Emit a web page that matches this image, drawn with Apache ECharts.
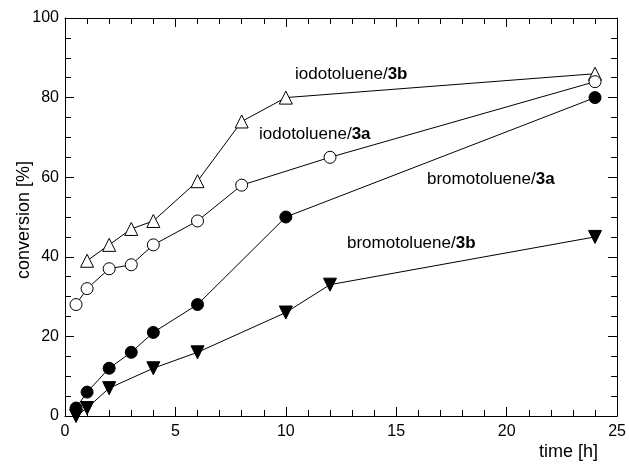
<!DOCTYPE html>
<html>
<head>
<meta charset="utf-8">
<script src="https://cdn.jsdelivr.net/npm/echarts@6/dist/echarts.min.js"></script>
<style>
  html, body { margin: 0; padding: 0; background: #fff; }
  #chart { width: 629px; height: 466px; }
</style>
</head>
<body>
<div id="chart"></div>
<script>
// data
const iodo3bTime = [1, 2, 3, 4, 6, 8, 10, 24];
const iodo3bConv = [39, 43, 47, 49, 59, 74, 80, 86];

const iodo3aTime = [0.5, 1, 2, 3, 4, 6, 8, 12, 24];
const iodo3aConv = [28, 32, 37, 38, 43, 49, 58, 65, 84];

const bromo3aTime = [0.5, 1, 2, 3, 4, 6, 10, 24];
const bromo3aConv = [2, 6, 12, 16, 21, 28, 50, 80];

const bromo3bTime = [0.5, 1, 2, 4, 6, 10, 12, 24];
const bromo3bConv = [0, 2, 7, 12, 16, 26, 33, 45];

const xTicks = [0, 5, 10, 15, 20, 25];
const yTicks = [0, 20, 40, 60, 80, 100];

const FONT = 'Liberation Sans, Arial, sans-serif';

function zip(xs, ys) {
    return xs.map((x, i) => [x, ys[i]]);
}

function makeSeries(name, xs, ys, symbol, filled, rotate) {
    return {
        name: name,
        type: 'line',
        data: zip(xs, ys),
        symbol: symbol,
        symbolSize: symbol === 'circle' ? 12 : 13,
        symbolRotate: rotate || 0,
        showAllSymbol: true,
        clip: false,
        animation: false,
        lineStyle: { color: '#000', width: 1 },
        itemStyle: {
            color: filled ? '#000' : '#fff',
            borderColor: '#000',
            borderWidth: 1
        }
    };
}

// series label with bold compound number
function seriesLabel(x, y, base, num) {
    return {
        type: 'text', x: x, y: y,
        style: {
            text: '{n|' + base + '}{b|' + num + '}', verticalAlign: 'middle',
            rich: {
                n: { fontSize: 17, fontFamily: FONT, fill: '#000' },
                b: { fontSize: 17, fontFamily: FONT, fontWeight: 'bold', fill: '#000' }
            }
        }
    };
}

const chart = echarts.init(document.getElementById('chart'), null, { renderer: 'canvas' });

const axisCommon = {
    type: 'value',
    axisLine: { show: true, onZero: false, lineStyle: { color: '#000', width: 1 } },
    axisTick: { show: true, inside: true, length: 9, lineStyle: { color: '#000', width: 1 } },
    minorTick: { show: true, length: 6, lineStyle: { color: '#000', width: 1 } },
    splitLine: { show: false },
    minorSplitLine: { show: false }
};

chart.setOption({
    backgroundColor: '#fff',
    animation: false,
    grid: { left: 65, top: 18, right: 9, bottom: 50 },
    xAxis: [
        Object.assign({}, axisCommon, {
            position: 'bottom',
            min: xTicks[0], max: xTicks[xTicks.length - 1], interval: 5,
            minorTick: Object.assign({}, axisCommon.minorTick, { splitNumber: 5 }),
            axisLabel: { color: '#000', fontSize: 16, fontFamily: FONT, margin: 8 }
        }),
        Object.assign({}, axisCommon, {
            position: 'top',
            min: xTicks[0], max: xTicks[xTicks.length - 1], interval: 5,
            minorTick: Object.assign({}, axisCommon.minorTick, { splitNumber: 5 }),
            axisLabel: { show: false }
        })
    ],
    yAxis: [
        Object.assign({}, axisCommon, {
            position: 'left',
            min: yTicks[0], max: yTicks[yTicks.length - 1], interval: 20,
            minorTick: Object.assign({}, axisCommon.minorTick, { splitNumber: 4 }),
            axisLabel: { color: '#000', fontSize: 16, fontFamily: FONT, margin: 6 }
        }),
        Object.assign({}, axisCommon, {
            position: 'right',
            min: yTicks[0], max: yTicks[yTicks.length - 1], interval: 20,
            minorTick: Object.assign({}, axisCommon.minorTick, { splitNumber: 4 }),
            axisLabel: { show: false }
        })
    ],
    series: [
        makeSeries('iodotoluene/3b', iodo3bTime, iodo3bConv, 'triangle', false),
        makeSeries('iodotoluene/3a', iodo3aTime, iodo3aConv, 'circle', false),
        makeSeries('bromotoluene/3a', bromo3aTime, bromo3aConv, 'circle', true),
        makeSeries('bromotoluene/3b', bromo3bTime, bromo3bConv, 'triangle', true, 180)
    ],
    graphic: [
        seriesLabel(295, 74, 'iodotoluene/', '3b'),
        seriesLabel(259, 134, 'iodotoluene/', '3a'),
        seriesLabel(427, 179, 'bromotoluene/', '3a'),
        seriesLabel(347, 243, 'bromotoluene/', '3b'),
        {
            type: 'text', x: 24, y: 220, rotation: Math.PI / 2,
            style: {
                text: 'conversion [%]', fontSize: 18, fontFamily: FONT, fill: '#000',
                align: 'center', verticalAlign: 'middle'
            }
        },
        {
            type: 'text', x: 598, y: 452,
            style: {
                text: 'time [h]', fontSize: 18, fontFamily: FONT, fill: '#000',
                align: 'right', verticalAlign: 'middle'
            }
        }
    ]
});
</script>
</body>
</html>
